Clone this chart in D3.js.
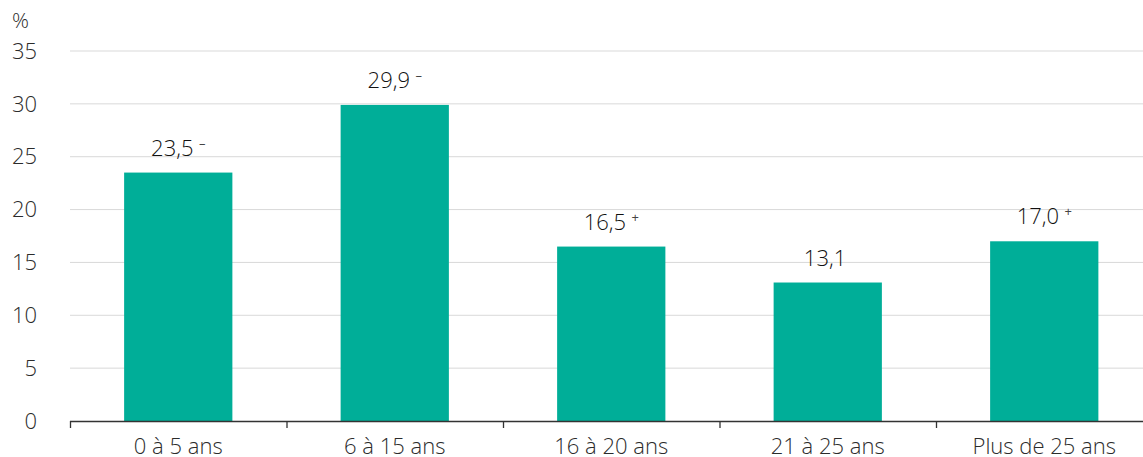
<!DOCTYPE html>
<html>
<head>
<meta charset="utf-8">
<script src="https://cdn.jsdelivr.net/npm/d3@7"></script>
<style>
  html, body { margin: 0; padding: 0; background: #fff; }
  svg { display: block; font-family: "Open Sans", sans-serif; font-weight: 300; }
</style>
</head>
<body>
<svg id="chart" width="1143" height="457"></svg>
<script>
// Age groups and shares (%)
const categories = ["0 à 5 ans", "6 à 15 ans", "16 à 20 ans", "21 à 25 ans", "Plus de 25 ans"];
const values = [23.5, 29.9, 16.5, 13.1, 17.0];
// Significance marks shown after each value
const marks = ["–", "–", "+", "", "+"];
const yTicks = [0, 5, 10, 15, 20, 25, 30, 35];
const yUnit = "%";

const svg = d3.select("#chart");
const margin = { left: 70, right: -9.5, top: 51, bottom: 36 };
const width = 1143, height = 457;

const x = d3.scaleBand()
  .domain(categories)
  .range([margin.left, width - margin.right])
  .paddingInner(0.5)
  .paddingOuter(0.25);

const y = d3.scaleLinear()
  .domain([0, 35])
  .range([height - margin.bottom, margin.top]);

// Horizontal gridlines
svg.append("g")
  .selectAll("line")
  .data(yTicks.filter(d => d > 0))
  .join("line")
  .attr("x1", margin.left)
  .attr("x2", width)
  .attr("y1", d => y(d))
  .attr("y2", d => y(d))
  .attr("stroke", "#d9d9d9")
  .attr("stroke-width", 1);

// Y tick labels
svg.append("g")
  .selectAll("text")
  .data(yTicks)
  .join("text")
  .attr("x", 37)
  .attr("y", d => y(d))
  .attr("dy", "0.35em")
  .attr("text-anchor", "end")
  .attr("fill", "#2b2b2b")
  .attr("font-size", 22)
  .text(d => d);

svg.append("text")
  .attr("x", 12)
  .attr("y", 28)
  .attr("fill", "#2b2b2b")
  .attr("font-size", 21)
  .text(yUnit);

// Bars
svg.append("g")
  .selectAll("rect")
  .data(values)
  .join("rect")
  .attr("x", (d, i) => x(categories[i]))
  .attr("width", x.bandwidth())
  .attr("y", d => y(d))
  .attr("height", d => y(0) - y(d))
  .attr("fill", "#00ae98");

// X axis with category ticks at band boundaries
const axisY = y(0);
const step = x.step();
const boundaries = d3.range(categories.length + 1).map(i => margin.left + i * step);
const ax = svg.append("g");
ax.append("line")
  .attr("x1", margin.left).attr("x2", width)
  .attr("y1", axisY + 0.5).attr("y2", axisY + 0.5)
  .attr("stroke", "#333").attr("stroke-width", 1.3);
ax.selectAll("line.tick")
  .data(boundaries)
  .join("line")
  .attr("class", "tick")
  .attr("x1", d => d + 0.5).attr("x2", d => d + 0.5)
  .attr("y1", axisY).attr("y2", axisY + 7)
  .attr("stroke", "#333").attr("stroke-width", 1.3);
ax.selectAll("text")
  .data(categories)
  .join("text")
  .attr("x", d => x(d) + x.bandwidth() / 2)
  .attr("y", axisY + 33)
  .attr("text-anchor", "middle")
  .attr("fill", "#2b2b2b")
  .attr("font-size", 22)
  .text(d => d);

// Value labels, each followed by its significance mark
const fmt = d3.format(".1f");
const lbl = svg.append("g")
  .selectAll("text")
  .data(values)
  .join("text")
  .attr("x", (d, i) => x(categories[i]) + x.bandwidth() / 2)
  .attr("y", d => y(d) - 17)
  .attr("text-anchor", "middle")
  .attr("fill", "#111")
  .attr("font-size", 22);
lbl.append("tspan").text(d => fmt(d).replace(".", ","));
lbl.append("tspan")
  .attr("font-size", 13)
  .attr("font-weight", 400)
  .attr("fill", "#444")
  .attr("dx", 2)
  .attr("dy", -8)
  .text((d, i) => "\u00a0" + marks[i]);
</script>
</body>
</html>
